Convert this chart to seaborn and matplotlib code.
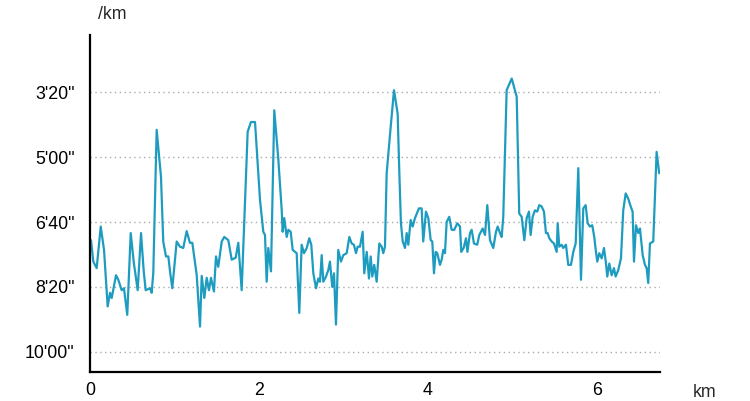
import seaborn as sns
import matplotlib.pyplot as plt
import pandas as pd

# distance (km) and pace (seconds per km)
distance_km = [
    0.012, 0.039, 0.079, 0.127, 0.166, 0.209, 0.237, 0.257, 0.308, 0.335,
    0.375, 0.402, 0.441, 0.482, 0.517, 0.564, 0.604, 0.636, 0.659, 0.710,
    0.730, 0.749, 0.789, 0.840, 0.867, 0.899, 0.927, 0.947, 0.974, 1.026,
    1.065, 1.104, 1.144, 1.183, 1.211, 1.263, 1.302, 1.322, 1.353, 1.381,
    1.408, 1.432, 1.467, 1.491, 1.518, 1.559, 1.589, 1.637, 1.677, 1.724,
    1.755, 1.795, 1.866, 1.905, 1.953, 2.012, 2.051, 2.071, 2.091, 2.110,
    2.142, 2.181, 2.228, 2.269, 2.280, 2.299, 2.328, 2.347, 2.375, 2.399,
    2.446, 2.477, 2.505, 2.533, 2.565, 2.595, 2.619, 2.643, 2.675, 2.702,
    2.722, 2.742, 2.761, 2.793, 2.820, 2.840, 2.867, 2.888, 2.911, 2.938,
    2.970, 2.998, 3.038, 3.069, 3.097, 3.124, 3.148, 3.168, 3.195, 3.227,
    3.246, 3.275, 3.302, 3.322, 3.341, 3.364, 3.393, 3.424, 3.452, 3.471,
    3.491, 3.511, 3.559, 3.598, 3.641, 3.660, 3.680, 3.701, 3.728, 3.748,
    3.767, 3.795, 3.819, 3.846, 3.893, 3.925, 3.944, 3.976, 4.004, 4.032,
    4.051, 4.071, 4.091, 4.110, 4.142, 4.162, 4.181, 4.201, 4.221, 4.252,
    4.280, 4.311, 4.347, 4.379, 4.394, 4.422, 4.450, 4.467, 4.497, 4.517,
    4.544, 4.583, 4.607, 4.647, 4.675, 4.702, 4.734, 4.773, 4.805, 4.825,
    4.852, 4.872, 4.891, 4.931, 4.991, 5.050, 5.080, 5.109, 5.140, 5.168,
    5.195, 5.215, 5.239, 5.266, 5.293, 5.317, 5.345, 5.373, 5.396, 5.416,
    5.436, 5.464, 5.491, 5.523, 5.535, 5.554, 5.582, 5.601, 5.633, 5.660,
    5.692, 5.720, 5.748, 5.779, 5.811, 5.838, 5.866, 5.890, 5.917, 5.944,
    5.968, 5.988, 6.004, 6.027, 6.056, 6.083, 6.107, 6.122, 6.146, 6.174,
    6.201, 6.221, 6.252, 6.284, 6.311, 6.340, 6.370, 6.399, 6.422, 6.438,
    6.462, 6.489, 6.509, 6.541, 6.568, 6.588, 6.607, 6.627, 6.666, 6.706,
    6.737,
]
pace_s = [
    428, 461, 471, 407, 443, 530, 509, 517, 482, 489,
    505, 502, 543, 417, 461, 505, 417, 476, 505, 502,
    509, 478, 258, 330, 430, 453, 453, 476, 502, 430,
    438, 440, 414, 432, 432, 482, 561, 483, 517, 486,
    505, 486, 507, 453, 469, 430, 423, 428, 458, 455,
    432, 505, 261, 246, 246, 366, 415, 420, 492, 440,
    476, 228, 302, 382, 415, 394, 423, 412, 415, 443,
    448, 540, 435, 448, 440, 425, 435, 479, 502, 487,
    492, 451, 492, 484, 474, 461, 500, 479, 558, 443,
    461, 451, 448, 423, 433, 435, 448, 438, 438, 415,
    479, 446, 487, 453, 484, 466, 492, 433, 438, 448,
    438, 325, 253, 197, 233, 320, 402, 430, 440, 417,
    435, 397, 407, 394, 379, 379, 430, 384, 394, 428,
    430, 479, 446, 448, 466, 458, 443, 448, 400, 392,
    412, 412, 402, 407, 446, 440, 425, 446, 417, 412,
    433, 435, 420, 410, 420, 374, 428, 440, 415, 407,
    417, 423, 392, 197, 179, 207, 387, 392, 428, 394,
    384, 420, 392, 382, 384, 374, 376, 384, 417, 417,
    425, 430, 433, 446, 402, 438, 435, 440, 435, 466,
    466, 446, 433, 317, 489, 379, 374, 402, 407, 405,
    423, 446, 461, 448, 456, 440, 464, 484, 464, 482,
    471, 484, 474, 456, 382, 356, 364, 376, 384, 461,
    405, 417, 410, 451, 466, 471, 494, 433, 430, 292,
    325,
]
pace_ticks = [200, 300, 400, 500, 600]
pace_labels = ["3'20\"", "5'00\"", "6'40\"", "8'20\"", "10'00\""]
dist_ticks = [0, 2, 4, 6]

df = pd.DataFrame({'km': distance_km, 'pace': pace_s})

sns.set_style('white')
plt.rcParams['font.family'] = ['Liberation Sans', 'DejaVu Sans']

fig = plt.figure(figsize=(7.5, 4.01), dpi=100)
ax = fig.add_axes([0.12, 0.0723, 0.76, 0.8404])

sns.lineplot(data=df, x='km', y='pace', ax=ax, color='#1e9cc0', linewidth=1.6)

ax.set_xlim(0, 6.746)
ax.set_ylim(631, 112)
ax.set_yticks(pace_ticks)
ax.set_yticklabels(pace_labels)
ax.set_xticks(dist_ticks)
ax.tick_params(axis='both', length=0, labelsize=12.8, colors='black')
ax.tick_params(axis='y', pad=11)
ax.tick_params(axis='x', pad=7)
ax.yaxis.grid(True, linestyle=(0, (1, 2.5)), color='#aaaaaa', linewidth=1)
ax.xaxis.grid(False)
ax.set_xlabel('')
ax.set_ylabel('')

for side in ['top', 'right']:
    ax.spines[side].set_visible(False)
for side in ['left', 'bottom']:
    ax.spines[side].set_color('black')
    ax.spines[side].set_linewidth(1.6)

fig.text(0.149, 0.965, '/km', fontsize=12.8, ha='center', va='center')
fig.text(0.94, 0.02, 'km', fontsize=12.8, ha='center', va='center')

plt.savefig('out.png', dpi=100)
